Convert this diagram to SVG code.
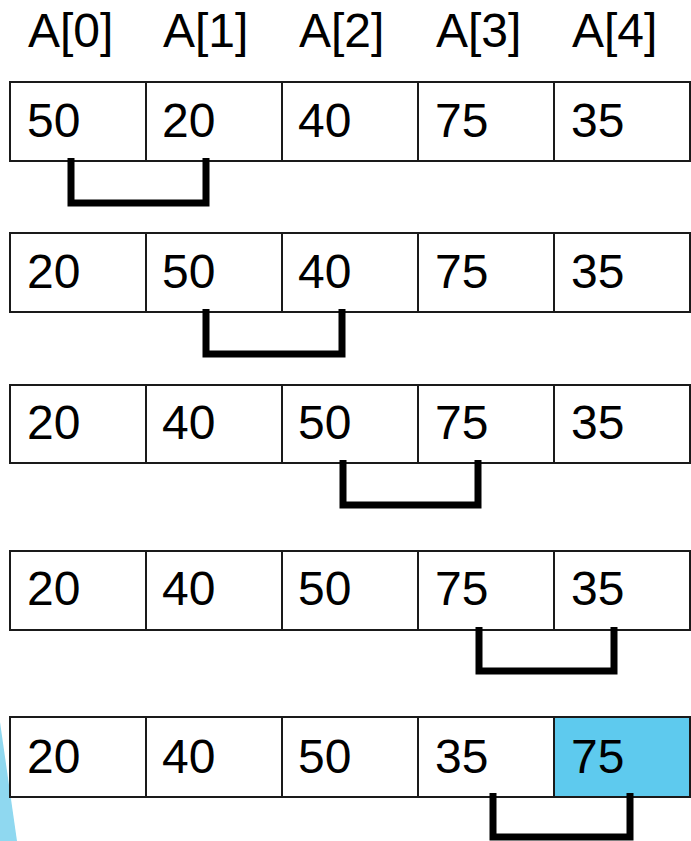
<svg xmlns="http://www.w3.org/2000/svg" width="691" height="841" viewBox="0 0 691 841">
<style>
.cell{fill:#ffffff;stroke:#1a1a1a;stroke-width:2}
.hot{fill:#5ECAEE}
.t{font-family:"Liberation Sans",Arial,sans-serif;font-size:48px;fill:#000}
.br{fill:none;stroke:#000;stroke-width:7;stroke-linejoin:miter}
</style>
<rect width="691" height="841" fill="#ffffff"/>
<polygon points="0,722 17,841 0,841" fill="#8FD8F0"/>
<g id="header">
<text class="t" x="28" y="47">A[0]</text>
<text class="t" x="163" y="47">A[1]</text>
<text class="t" x="299" y="47">A[2]</text>
<text class="t" x="436" y="47">A[3]</text>
<text class="t" x="572" y="47">A[4]</text>
</g>
<g id="row1">
<rect class="cell" x="10" y="82" width="136" height="79"/>
<rect class="cell" x="146" y="82" width="136" height="79"/>
<rect class="cell" x="282" y="82" width="136" height="79"/>
<rect class="cell" x="418" y="82" width="136" height="79"/>
<rect class="cell" x="554" y="82" width="136" height="79"/>
<text class="t" x="27" y="137">50</text>
<text class="t" x="162" y="137">20</text>
<text class="t" x="298" y="137">40</text>
<text class="t" x="435" y="137">75</text>
<text class="t" x="571" y="137">35</text>
</g>
<g id="row2">
<rect class="cell" x="10" y="233" width="136" height="79"/>
<rect class="cell" x="146" y="233" width="136" height="79"/>
<rect class="cell" x="282" y="233" width="136" height="79"/>
<rect class="cell" x="418" y="233" width="136" height="79"/>
<rect class="cell" x="554" y="233" width="136" height="79"/>
<text class="t" x="27" y="288">20</text>
<text class="t" x="162" y="288">50</text>
<text class="t" x="298" y="288">40</text>
<text class="t" x="435" y="288">75</text>
<text class="t" x="571" y="288">35</text>
</g>
<g id="row3">
<rect class="cell" x="10" y="385" width="136" height="78"/>
<rect class="cell" x="146" y="385" width="136" height="78"/>
<rect class="cell" x="282" y="385" width="136" height="78"/>
<rect class="cell" x="418" y="385" width="136" height="78"/>
<rect class="cell" x="554" y="385" width="136" height="78"/>
<text class="t" x="27" y="439">20</text>
<text class="t" x="162" y="439">40</text>
<text class="t" x="298" y="439">50</text>
<text class="t" x="435" y="439">75</text>
<text class="t" x="571" y="439">35</text>
</g>
<g id="row4">
<rect class="cell" x="10" y="551" width="136" height="79"/>
<rect class="cell" x="146" y="551" width="136" height="79"/>
<rect class="cell" x="282" y="551" width="136" height="79"/>
<rect class="cell" x="418" y="551" width="136" height="79"/>
<rect class="cell" x="554" y="551" width="136" height="79"/>
<text class="t" x="27" y="605">20</text>
<text class="t" x="162" y="605">40</text>
<text class="t" x="298" y="605">50</text>
<text class="t" x="435" y="605">75</text>
<text class="t" x="571" y="605">35</text>
</g>
<g id="row5">
<rect class="cell" x="10" y="717" width="136" height="80"/>
<rect class="cell" x="146" y="717" width="136" height="80"/>
<rect class="cell" x="282" y="717" width="136" height="80"/>
<rect class="cell" x="418" y="717" width="136" height="80"/>
<rect class="cell hot" x="554" y="717" width="136" height="80"/>
<text class="t" x="27" y="773">20</text>
<text class="t" x="162" y="773">40</text>
<text class="t" x="298" y="773">50</text>
<text class="t" x="435" y="773">35</text>
<text class="t" x="571" y="773">75</text>
</g>
<g id="connectors">
<path class="br" d="M71,158 V203 H206 V158"/>
<path class="br" d="M206,309 V354 H342 V309"/>
<path class="br" d="M343,460 V505 H478 V460"/>
<path class="br" d="M479,627 V671 H614 V627"/>
<path class="br" d="M493,793 V837 H630 V793"/>
</g>
</svg>
